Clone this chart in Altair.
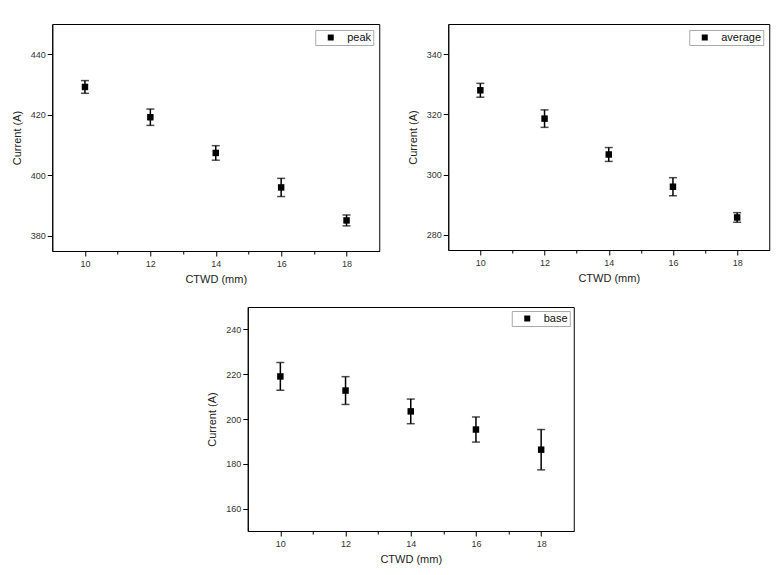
import altair as alt
import pandas as pd

ctwd = [10, 12, 14, 16, 18]
peak = [429.2, 419.2, 407.4, 396.0, 385.1]
peak_err = [2.1, 2.7, 2.4, 3.0, 1.8]
average = [328.0, 318.6, 306.7, 296.0, 285.8]
average_err = [2.3, 2.9, 2.3, 3.0, 1.6]
base = [219.0, 212.7, 203.4, 195.3, 186.3]
base_err = [6.2, 6.2, 5.5, 5.6, 9.0]

x_domain = [9, 19]
x_ticks = [10, 11, 12, 13, 14, 15, 16, 17, 18]

FONT = "Liberation Sans"


def panel(vals, errs, name, ydom, yticks, w, h, loff):
    df = pd.DataFrame({
        "x": ctwd,
        "y": vals,
        "lo": [v - e for v, e in zip(vals, errs)],
        "hi": [v + e for v, e in zip(vals, errs)],
        "series": [name] * len(ctwd),
    })
    xenc = alt.X(
        "x:Q",
        scale=alt.Scale(domain=x_domain, nice=False, zero=False),
        axis=alt.Axis(
            title="CTWD (mm)",
            values=x_ticks,
            labelExpr="datum.value % 2 == 0 ? datum.label : ''",
            tickSize={"condition": {"test": "datum.value % 2 != 0", "value": 3}, "value": 5},
            labelPadding=3,
            titlePadding=5,
        ),
    )
    yenc_axis = alt.Axis(
        title="Current (A)",
        values=yticks,
        labelExpr="datum.value % 20 == 0 ? datum.label : ''",
        tickSize={"condition": {"test": "datum.value % 20 != 0", "value": 3}, "value": 5},
        labelPadding=2,
        titlePadding=8,
    )
    yscale = alt.Scale(domain=ydom, nice=False, zero=False)
    base_c = alt.Chart(df)
    rule = base_c.mark_rule(color="black", strokeWidth=1.5).encode(
        x=xenc, y=alt.Y("lo:Q", scale=yscale, axis=yenc_axis), y2="hi:Q"
    )
    cap_lo = base_c.mark_tick(color="black", orient="horizontal", size=8, thickness=1.5).encode(
        x="x:Q", y="lo:Q"
    )
    cap_hi = base_c.mark_tick(color="black", orient="horizontal", size=8, thickness=1.5).encode(
        x="x:Q", y="hi:Q"
    )
    pts = base_c.mark_square(size=42, opacity=1, filled=True).encode(
        x="x:Q",
        y="y:Q",
        color=alt.Color(
            "series:N",
            scale=alt.Scale(range=["black"]),
            legend=alt.Legend(
                title=None,
                orient="top-right",
                offset=loff,
                padding=2,
                strokeColor="#aaa",
                fillColor="white",
                symbolType="square",
                symbolSize=36,
                symbolStrokeWidth=0,
                labelFontSize=11,
                labelFont=FONT,
                labelColor="#111",
                labelOffset=11,
                symbolOffset=8,
                labelExpr="datum.label + '  '",
                cornerRadius=0,
            ),
        ),
    )
    return alt.layer(rule, cap_lo, cap_hi, pts).properties(width=w, height=h)


p1 = panel(peak, peak_err, "peak", [375, 450], [380, 390, 400, 410, 420, 430, 440], 327, 227, 6)
p2 = panel(average, average_err, "average", [275, 350], [280, 290, 300, 310, 320, 330, 340], 321, 226, 6)
p3 = panel(base, base_err, "base", [150, 250], [160, 170, 180, 190, 200, 210, 220, 230, 240], 326, 224, 4)

top = alt.hconcat(p1, p2, spacing=26).resolve_scale(color="independent")
chart = (
    alt.vconcat(top, p3, spacing=21, center=True)
    .resolve_scale(color="independent")
    .properties(padding={"left": 2, "top": 15, "right": 2, "bottom": 0})
    .configure_view(stroke="black", strokeWidth=1)
    .configure_axis(
        grid=False,
        domainColor="black",
        domainWidth=1,
        tickColor="black",
        tickWidth=1,
        labelFont=FONT,
        labelFontSize=9,
        labelColor="#333",
        titleFont=FONT,
        titleFontSize=11,
        titleFontWeight="normal",
        titleColor="#222",
    )
)

chart.save("out.html", embed_options={"renderer": "svg", "actions": False})
